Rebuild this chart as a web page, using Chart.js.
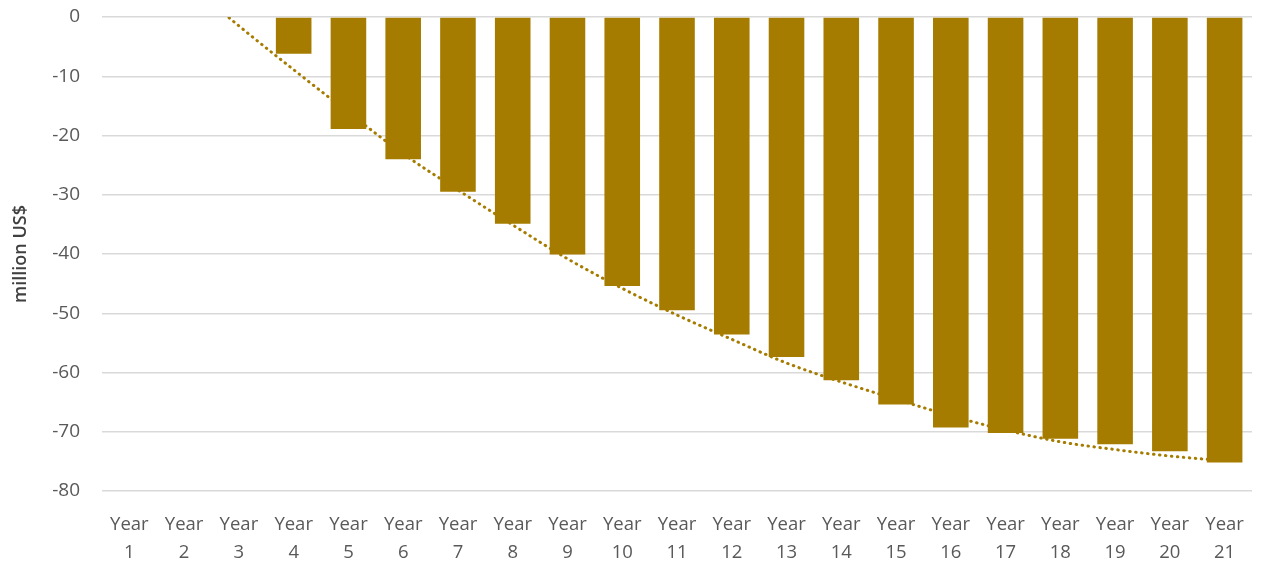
<!DOCTYPE html>
<html>
<head>
<meta charset="utf-8">
<script src="https://cdn.jsdelivr.net/npm/chart.js@4.4.1/dist/chart.umd.min.js"></script>
<style>
  html, body { margin: 0; padding: 0; background: #fff; }
  #wrap { width: 1263px; height: 569px; }
</style>
</head>
<body>
<div id="wrap"><canvas id="chart"></canvas></div>
<script>
const years = ['1','2','3','4','5','6','7','8','9','10','11','12','13','14','15','16','17','18','19','20','21']
const cashflow = [0, 0, 0, -6.2, -18.9, -24.0, -29.5, -34.9, -40.1, -45.4, -49.5, -53.6, -57.4, -61.3, -65.4, -69.3, -70.2, -71.2, -72.1, -73.3, -75.2]
// trend line, first two points sit above zero and get clipped by the axis
const trend = [14.5, 6.3, -1.5, -8.9, -16.1, -23.1, -29.2, -35.1, -40.8, -45.8, -50.3, -54.4, -58.4, -61.6, -64.5, -67.3, -69.7, -71.7, -73.0, -74.1, -74.9]
const yTicks = [0, -10, -20, -30, -40, -50, -60, -70, -80]

const gold = '#a67c00'
const grey = '#595959'
const font = "'Open Sans', 'Noto Sans', sans-serif"

const labels = years.map(y => ['Year', y])

new Chart(document.getElementById('chart'), {
  type: 'bar',
  data: {
    labels,
    datasets: [
      {
        type: 'line',
        data: trend,
        borderColor: gold,
        borderWidth: 3,
        borderDash: [0.5, 5.5],
        borderCapStyle: 'round',
        cubicInterpolationMode: 'monotone',
        pointRadius: 0,
        fill: false,
        order: 2
      },
      {
        data: cashflow,
        backgroundColor: gold,
        categoryPercentage: 1,
        barPercentage: 0.65,
        order: 1
      }
    ]
  },
  options: {
    responsive: true,
    maintainAspectRatio: false,
    animation: false,
    layout: { padding: { top: 17, right: 11, left: 0, bottom: 0 } },
    plugins: { legend: { display: false }, tooltip: { enabled: false } },
    scales: {
      x: {
        grid: { display: false },
        border: { display: false },
        ticks: {
          color: grey,
          font: { family: font, size: 18.5, lineHeight: 1.5 },
          padding: 12,
          maxRotation: 0,
          autoSkip: false
        },
        afterFit: s => {
          s.height = 78
          s.paddingLeft = 0
          s.paddingRight = 0
        }
      },
      y: {
        min: -80,
        max: 0,
        afterBuildTicks: s => { s.ticks = yTicks.map(v => ({ value: v })) },
        grid: { color: '#d9d9d9', lineWidth: 1.5, drawTicks: false },
        border: { display: false },
        ticks: {
          color: grey,
          font: { family: font, size: 19 },
          padding: 22
        },
        title: {
          display: true,
          text: 'million US$',
          color: '#404040',
          font: { family: font, size: 18, weight: '600' },
          padding: { top: 10, bottom: 0 }
        },
        afterFit: s => {
          s.width = 102
          s.paddingTop = 0
          s.paddingBottom = 0
        }
      }
    }
  }
})
</script>
</body>
</html>
